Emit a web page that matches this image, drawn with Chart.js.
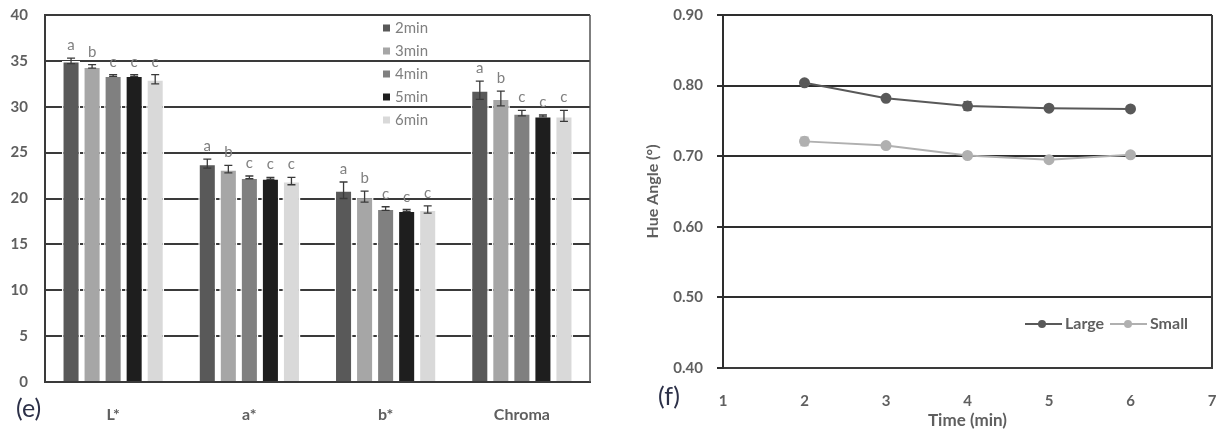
<!DOCTYPE html>
<html>
<head>
<meta charset="utf-8">
<script src="https://cdn.jsdelivr.net/npm/chart.js@4/dist/chart.umd.min.js"></script>
<style>
  body { margin: 0; background: #fff; }
  #wrap { position: relative; width: 1221px; height: 429px; overflow: hidden; }
  canvas { position: absolute; top: 0; }
  .panel { position: absolute; font-family: Lato, "Liberation Sans", sans-serif; font-size: 25px; line-height: 30px; color: #2c3048; }
</style>
</head>
<body>
<div id="wrap">
  <canvas id="c1" width="600" height="429" style="left:0"></canvas>
  <canvas id="c2" width="621" height="429" style="left:600px"></canvas>
  <div class="panel" style="left:16px;top:392px;">(e)</div>
  <div class="panel" style="left:658px;top:380px;">(f)</div>
</div>
<script>
// ---------- Panel (e) data ----------
const categories = ['L*', 'a*', 'b*', 'Chroma'];
const seriesNames = ['2min', '3min', '4min', '5min', '6min'];
const v2min = [35.0, 23.8, 20.9, 31.8];
const v3min = [34.4, 23.2, 20.2, 30.9];
const v4min = [33.4, 22.3, 18.9, 29.3];
const v5min = [33.4, 22.2, 18.7, 29.0];
const v6min = [33.0, 21.9, 18.8, 29.0];
const err2min = [0.3, 0.5, 0.9, 1.0];
const err3min = [0.2, 0.4, 0.6, 0.8];
const err4min = [0.1, 0.15, 0.2, 0.3];
const err5min = [0.1, 0.1, 0.1, 0.1];
const err6min = [0.5, 0.4, 0.4, 0.6];
const letters2min = ['a', 'a', 'a', 'a'];
const letters3min = ['b', 'b', 'b', 'b'];
const letters4min = ['c', 'c', 'c', 'c'];
const letters5min = ['c', 'c', 'c', 'c'];
const letters6min = ['c', 'c', 'c', 'c'];
const yTicksE = [0, 5, 10, 15, 20, 25, 30, 35, 40];

// ---------- Panel (f) data ----------
const times = [2, 3, 4, 5, 6];
const hueLarge = [0.804, 0.782, 0.771, 0.768, 0.767];
const hueLargeErr = [0.002, 0.002, 0.006, 0.002, 0.002];
const hueSmall = [0.721, 0.715, 0.701, 0.695, 0.702];
const hueSmallErr = [0.006, 0.002, 0.002, 0.002, 0.002];
const xTicksF = [1, 2, 3, 4, 5, 6, 7];

const FONT = 'Lato, "Liberation Sans", sans-serif';
const barColors = ['#595959', '#a6a6a6', '#808080', '#1e1e1e', '#d9d9d9'];
const barValues = [v2min, v3min, v4min, v5min, v6min];
const barErrors = [err2min, err3min, err4min, err5min, err6min];
const barLetters = [letters2min, letters3min, letters4min, letters5min, letters6min];

const barExtras = {
  id: 'barExtras',
  afterDatasetsDraw(chart) {
    const ctx = chart.ctx;
    const y = chart.scales.y;
    ctx.save();
    chart.data.datasets.forEach((ds, di) => {
      const meta = chart.getDatasetMeta(di);
      meta.data.forEach((el, i) => {
        const v = ds.data[i], e = barErrors[di][i];
        const yt = y.getPixelForValue(v + e), yb = y.getPixelForValue(v - e);
        ctx.strokeStyle = '#3a3a3a';
        ctx.lineWidth = 1.3;
        ctx.beginPath();
        ctx.moveTo(el.x, yt); ctx.lineTo(el.x, yb);
        ctx.moveTo(el.x - 4, yt); ctx.lineTo(el.x + 4, yt);
        ctx.moveTo(el.x - 4, yb); ctx.lineTo(el.x + 4, yb);
        ctx.stroke();
        ctx.fillStyle = '#808080';
        ctx.font = '15px ' + FONT;
        ctx.textAlign = 'center';
        ctx.textBaseline = 'alphabetic';
        ctx.fillText(barLetters[di][i], el.x, yt - 8);
      });
    });
    // plot border (right)
    const a = chart.chartArea;
    ctx.strokeStyle = '#555';
    ctx.lineWidth = 1.5;
    ctx.beginPath();
    ctx.moveTo(a.right, a.top); ctx.lineTo(a.right, a.bottom);
    ctx.stroke();
    // legend
    const lx = 383, ly0 = 28, step = 23;
    ctx.font = '15px ' + FONT;
    ctx.textAlign = 'left';
    ctx.textBaseline = 'middle';
    chart.data.datasets.forEach((ds, di) => {
      const yy = ly0 + di * step;
      ctx.fillStyle = barColors[di];
      ctx.fillRect(lx, yy - 3.5, 7, 7);
      ctx.fillStyle = '#7f7f7f';
      ctx.fillText(ds.label, lx + 12, yy);
    });
    ctx.restore();
  }
};

new Chart(document.getElementById('c1'), {
  type: 'bar',
  data: {
    labels: categories,
    datasets: seriesNames.map((n, i) => ({
      label: n,
      data: barValues[i],
      backgroundColor: barColors[i],
      borderColor: '#ffffff',
      borderWidth: 1.5,
      categoryPercentage: 0.772,
      barPercentage: 0.857
    }))
  },
  options: {
    responsive: false,
    animation: false,
    devicePixelRatio: 1,
    layout: { padding: { top: 15, right: 10, left: 0, bottom: 0 } },
    plugins: { legend: { display: false }, tooltip: { enabled: false } },
    scales: {
      x: {
        grid: { display: false },
        border: { display: true, color: '#3a3a3a', width: 2 },
        ticks: { font: { family: FONT, size: 16, weight: 'bold' }, color: '#5f5f5f', padding: 15 },
        afterFit(s) { s.height = 47; s.paddingLeft = 0; s.paddingRight = 0; }
      },
      y: {
        min: 0, max: 40,
        afterBuildTicks(s) { s.ticks = yTicksE.map(v => ({ value: v })); },
        ticks: { font: { family: FONT, size: 15, weight: 'bold' }, color: '#5f5f5f', padding: 17 },
        grid: { color: '#3a3a3a', lineWidth: 2, drawTicks: false },
        border: { color: '#3a3a3a', width: 2 },
        afterFit(s) { s.width = 45; s.paddingTop = 0; s.paddingBottom = 0; }
      }
    }
  },
  plugins: [barExtras]
});

// ---------- Panel (f) ----------
const lineErrs = [hueLargeErr, hueSmallErr];
const lineColors = ['#595959', '#b0b0b0'];
const lineExtras = {
  id: 'lineExtras',
  afterDatasetsDraw(chart) {
    const ctx = chart.ctx;
    const y = chart.scales.y;
    ctx.save();
    chart.data.datasets.forEach((ds, di) => {
      const meta = chart.getDatasetMeta(di);
      meta.data.forEach((el, i) => {
        const v = ds.data[i].y, e = lineErrs[di][i];
        const yt = y.getPixelForValue(v + e), yb = y.getPixelForValue(v - e);
        ctx.strokeStyle = lineColors[di];
        ctx.lineWidth = 1.5;
        ctx.beginPath();
        ctx.moveTo(el.x, yt); ctx.lineTo(el.x, yb);
        ctx.moveTo(el.x - 4, yt); ctx.lineTo(el.x + 4, yt);
        ctx.moveTo(el.x - 4, yb); ctx.lineTo(el.x + 4, yb);
        ctx.stroke();
      });
    });
    const a = chart.chartArea;
    ctx.strokeStyle = '#3a3a3a';
    ctx.lineWidth = 2;
    ctx.beginPath();
    ctx.moveTo(a.right, a.top); ctx.lineTo(a.right, a.bottom);
    ctx.stroke();
    // legend
    const ly = 324;
    const items = [{ x0: 425, x1: 462, dot: 442, tx: 465 }, { x0: 510, x1: 547, dot: 528, tx: 550 }];
    ctx.font = 'bold 16px ' + FONT;
    ctx.textAlign = 'left';
    ctx.textBaseline = 'middle';
    chart.data.datasets.forEach((ds, di) => {
      const it = items[di];
      ctx.strokeStyle = lineColors[di];
      ctx.lineWidth = 2;
      ctx.beginPath(); ctx.moveTo(it.x0, ly); ctx.lineTo(it.x1, ly); ctx.stroke();
      ctx.fillStyle = lineColors[di];
      ctx.beginPath(); ctx.arc(it.dot, ly, 4, 0, Math.PI * 2); ctx.fill();
      ctx.fillStyle = '#5f5f5f';
      ctx.fillText(ds.label, it.tx, ly);
    });
    ctx.restore();
  }
};

new Chart(document.getElementById('c2'), {
  type: 'line',
  data: {
    datasets: [
      { label: 'Large', data: times.map((t, i) => ({ x: t, y: hueLarge[i] })), borderColor: lineColors[0], backgroundColor: lineColors[0], pointBackgroundColor: lineColors[0], pointBorderColor: lineColors[0], pointRadius: 4.5, borderWidth: 2, tension: 0 },
      { label: 'Small', data: times.map((t, i) => ({ x: t, y: hueSmall[i] })), borderColor: lineColors[1], backgroundColor: lineColors[1], pointBackgroundColor: lineColors[1], pointBorderColor: lineColors[1], pointRadius: 4.5, borderWidth: 2, tension: 0 }
    ]
  },
  options: {
    responsive: false,
    animation: false,
    devicePixelRatio: 1,
    layout: { padding: { top: 15, right: 9, left: 0, bottom: 0 } },
    plugins: { legend: { display: false }, tooltip: { enabled: false } },
    scales: {
      x: {
        type: 'linear', min: 1, max: 7,
        afterBuildTicks(s) { s.ticks = xTicksF.map(v => ({ value: v })); },
        grid: { display: false },
        border: { display: true, color: '#3a3a3a', width: 2 },
        ticks: { font: { family: FONT, size: 15, weight: 'bold' }, color: '#5f5f5f', padding: 16 },
        title: { display: true, text: 'Time (min)', font: { family: FONT, size: 17, weight: 'bold', lineHeight: 1 }, color: '#5f5f5f', padding: { top: 0, bottom: 0 } },
        afterFit(s) { s.height = 61; s.paddingLeft = 0; s.paddingRight = 0; }
      },
      y: {
        min: 0.4, max: 0.9,
        ticks: { stepSize: 0.1, callback: v => Number(v).toFixed(2), font: { family: FONT, size: 15, weight: 'bold' }, color: '#5f5f5f', padding: 14 },
        grid: { color: '#2e2e2e', lineWidth: 2, drawTicks: true, tickLength: 6 },
        border: { color: '#2e2e2e', width: 2 },
        title: { display: true, text: 'Hue Angle (°)', font: { family: FONT, size: 16, weight: 'bold', lineHeight: 1 }, color: '#5f5f5f', padding: { top: 45, bottom: 0 } },
        afterFit(s) { s.width = 123; s.paddingTop = 0; s.paddingBottom = 0; }
      }
    }
  },
  plugins: [lineExtras]
});
</script>
</body>
</html>
